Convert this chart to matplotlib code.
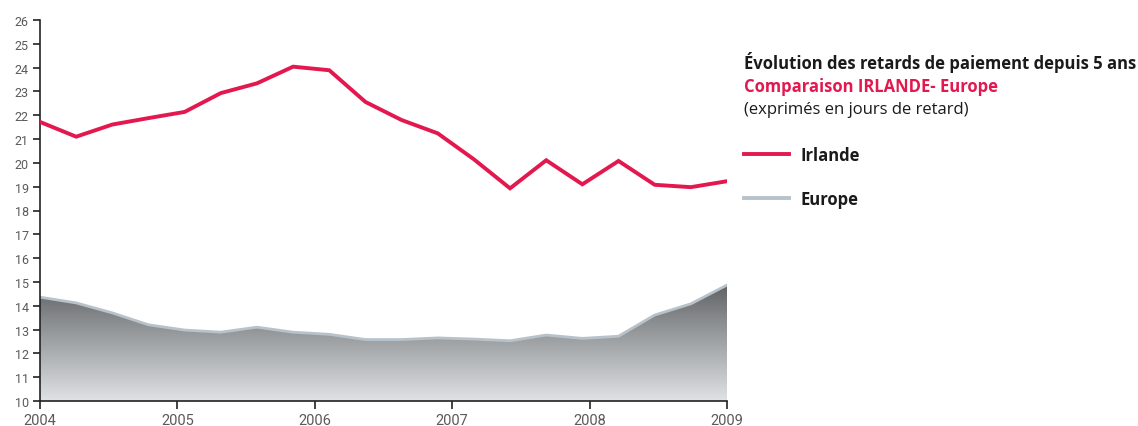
import numpy as np
import matplotlib
matplotlib.use("Agg")
import matplotlib.pyplot as plt
from matplotlib.colors import LinearSegmentedColormap
from matplotlib import font_manager

# Observations evenly spaced from 2004 to 2009
years_start, years_end = 2004, 2009
irlande = [21.72, 21.10, 21.61, 21.88, 22.14, 22.93, 23.34, 24.04, 23.89, 22.56,
           21.80, 21.24, 20.15, 18.93, 20.11, 19.10, 20.08, 19.08, 18.98, 19.23]
europe = [14.36, 14.12, 13.70, 13.20, 12.98, 12.89, 13.10, 12.89, 12.80, 12.58,
          12.58, 12.65, 12.60, 12.53, 12.77, 12.63, 12.72, 13.61, 14.08, 14.87]
year_ticks = [2004, 2005, 2006, 2007, 2008, 2009]
y_ticks = list(range(10, 27))

RED = "#e2184f"
GREY_LINE = "#b8c2ca"

def pick(names):
    avail = {f.name for f in font_manager.fontManager.ttflist}
    for n in names:
        if n in avail:
            return n
    return "DejaVu Sans"

tick_font = pick(["Liberation Sans Narrow", "Roboto", "DejaVu Sans"])
text_font = pick(["Open Sans", "Lato", "DejaVu Sans"])

x = np.linspace(years_start, years_end, len(irlande))

fig = plt.figure(figsize=(11.38, 4.27), dpi=100)
ax = fig.add_axes([40 / 1138, 1 - 402 / 427, 687 / 1138, 381 / 427])
ax.set_xlim(years_start, years_end)
ax.set_ylim(10, 26)

# Gradient-filled area for Europe
poly = ax.fill_between(x, 10, europe, facecolor="none", edgecolor="none")
cmap = LinearSegmentedColormap.from_list("g", ["#e0e2e4", "#b4b7ba", "#8a8d90", "#5c5e60"])
grad = np.linspace(0, 1, 256).reshape(-1, 1)
im = ax.imshow(grad, extent=[years_start, years_end, 10, 15.0], origin="lower",
               cmap=cmap, aspect="auto", zorder=1)
path = poly.get_paths()[0]
im.set_clip_path(path, transform=ax.transData)
ax.plot(x, europe, color=GREY_LINE, lw=2.0, zorder=2, solid_joinstyle="round")

ax.plot(x, irlande, color=RED, lw=2.8, zorder=3, solid_joinstyle="miter")

for side in ["top", "right"]:
    ax.spines[side].set_visible(False)
for side in ["left", "bottom"]:
    ax.spines[side].set_color("#222222")
    ax.spines[side].set_linewidth(1.2)

ax.set_xticks(year_ticks)
ax.set_xticklabels([str(y) for y in year_ticks], fontfamily=tick_font,
                   fontsize=10.5, color="#5a5a5a")
ax.set_yticks(y_ticks)
ax.set_yticklabels([str(v) for v in y_ticks], fontfamily=tick_font,
                   fontsize=9, color="#5a5a5a")
ax.tick_params(axis="x", direction="out", length=6, width=1.2, color="#222222", pad=2.5)
ax.tick_params(axis="y", direction="out", length=5, width=1.2, color="#222222", pad=3)

# Title block and legend on the right
fig.text(744 / 1138, 1 - 63 / 427, "Évolution des retards de paiement depuis 5 ans",
         fontfamily=text_font, fontweight="bold", fontsize=12, color="#1a1a1a", va="center")
fig.text(744 / 1138, 1 - 87 / 427, "Comparaison IRLANDE- Europe",
         fontfamily=text_font, fontweight="bold", fontsize=12, color=RED, va="center")
fig.text(744 / 1138, 1 - 110 / 427, "(exprimés en jours de retard)",
         fontfamily=text_font, fontsize=12, color="#1a1a1a", va="center")

for yy, col, lab in [(155, RED, "Irlande"), (199, GREY_LINE, "Europe")]:
    fig.add_artist(plt.Line2D([744 / 1138, 789 / 1138], [1 - yy / 427, 1 - yy / 427],
                              color=col, lw=2.8, transform=fig.transFigure))
    fig.text(800 / 1138, 1 - (yy + 1) / 427, lab, fontfamily=text_font,
             fontweight="bold", fontsize=12, color="#1a1a1a", va="center")

fig.savefig("out.png", dpi=100)
